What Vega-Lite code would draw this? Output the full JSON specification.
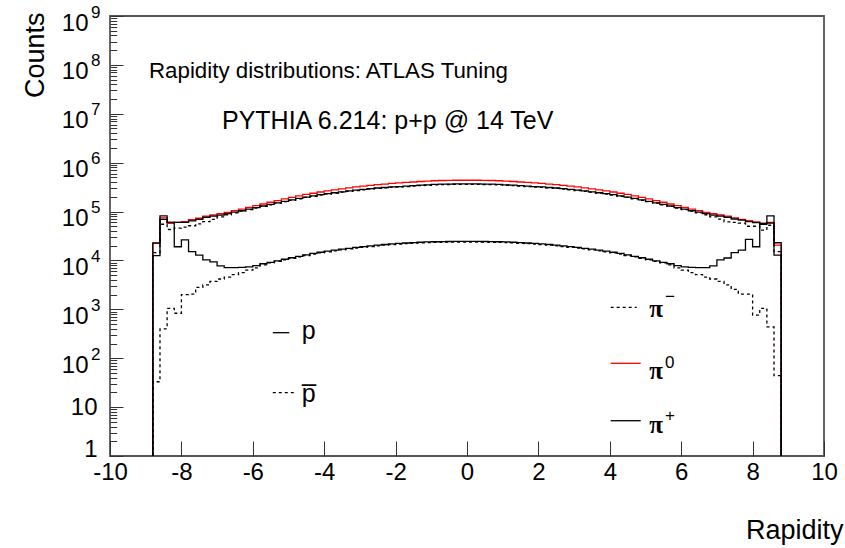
{
  "$schema": "https://vega.github.io/schema/vega-lite/v6.json",
  "width": 714,
  "height": 440,
  "autosize": {"type": "none"},
  "padding": {"left": 110, "top": 16, "right": 21, "bottom": 92},
  "background": "white",
  "config": {
    "font": "Liberation Sans",
    "view": {"stroke": "#555555", "strokeWidth": 1.8},
    "axis": {"grid": false, "domain": false, "labelColor": "black", "titleColor": "black", "titleFontWeight": "normal", "tickColor": "#333333", "tickWidth": 1, "labelFont": "Liberation Sans", "titleFont": "Liberation Sans"},
    "text": {"font": "Liberation Sans", "color": "black"}
  },
  "datasets": {
    "hist": [
      {"k":0,"x":-8.8,"p0":1,"pp":1,"pm":1,"p":1,"pb":1},
      {"k":1,"x":-8.8,"p0":22400,"pp":22900,"pm":14500,"p":12590,"pb":33},
      {"k":2,"x":-8.6,"p0":74000,"pp":69000,"pm":55000,"p":81300,"pb":398},
      {"k":3,"x":-8.4,"p0":57500,"pp":60300,"pm":43000,"p":60300,"pb":1047},
      {"k":4,"x":-8.2,"p0":60000,"pp":60300,"pm":45700,"p":19050,"pb":832},
      {"k":5,"x":-8.0,"p0":62500,"pp":60300,"pm":47900,"p":26300,"pb":1995},
      {"k":6,"x":-7.8,"p0":68000,"pp":64500,"pm":51300,"p":15140,"pb":2040},
      {"k":7,"x":-7.6,"p0":73000,"pp":69500,"pm":56200,"p":12880,"pb":2820},
      {"k":8,"x":-7.4,"p0":80400,"pp":76400,"pm":62000,"p":10230,"pb":3160},
      {"k":9,"x":-7.2,"p0":85100,"pp":80400,"pm":69000,"p":9330,"pb":3720},
      {"k":10,"x":-7.0,"p0":90200,"pp":84800,"pm":78000,"p":7760,"pb":4170},
      {"k":11,"x":-6.8,"p0":96600,"pp":90300,"pm":86000,"p":7160,"pb":4570},
      {"k":12,"x":-6.6,"p0":104200,"pp":96900,"pm":94000,"p":7160,"pb":5130},
      {"k":13,"x":-6.4,"p0":112200,"pp":103800,"pm":101700,"p":7240,"pb":5620},
      {"k":14,"x":-6.2,"p0":121600,"pp":111900,"pm":109700,"p":7410,"pb":6310},
      {"k":15,"x":-6.0,"p0":131800,"pp":120600,"pm":118200,"p":7850,"pb":7080},
      {"k":16,"x":-5.8,"p0":142900,"pp":130000,"pm":127400,"p":8550,"pb":8130},
      {"k":17,"x":-5.6,"p0":154900,"pp":140200,"pm":137400,"p":9160,"pb":8890},
      {"k":18,"x":-5.4,"p0":167900,"pp":151100,"pm":148100,"p":9840,"pb":9540},
      {"k":19,"x":-5.2,"p0":181100,"pp":162100,"pm":158900,"p":10570,"pb":10250},
      {"k":20,"x":-5.0,"p0":195000,"pp":173600,"pm":170100,"p":11350,"pb":11010},
      {"k":21,"x":-4.8,"p0":208900,"pp":185900,"pm":182200,"p":12160,"pb":11800},
      {"k":22,"x":-4.6,"p0":223900,"pp":198200,"pm":194200,"p":13000,"pb":12610},
      {"k":23,"x":-4.4,"p0":237100,"pp":208600,"pm":204400,"p":13900,"pb":13480},
      {"k":24,"x":-4.2,"p0":251200,"pp":221100,"pm":216700,"p":14720,"pb":14280},
      {"k":25,"x":-4.0,"p0":264900,"pp":231800,"pm":227200,"p":15490,"pb":15030},
      {"k":26,"x":-3.8,"p0":278600,"pp":242400,"pm":237600,"p":16220,"pb":15730},
      {"k":27,"x":-3.6,"p0":291700,"pp":253800,"pm":248700,"p":16980,"pb":16470},
      {"k":28,"x":-3.4,"p0":305500,"pp":264300,"pm":259000,"p":17700,"pb":17170},
      {"k":29,"x":-3.2,"p0":318400,"pp":275400,"pm":269900,"p":18450,"pb":17900},
      {"k":30,"x":-3.0,"p0":331100,"pp":284700,"pm":279000,"p":19190,"pb":18610},
      {"k":31,"x":-2.8,"p0":342800,"pp":294800,"pm":288900,"p":19860,"pb":19260},
      {"k":32,"x":-2.6,"p0":354800,"pp":303400,"pm":297300,"p":20560,"pb":19940},
      {"k":33,"x":-2.4,"p0":365600,"pp":310800,"pm":304600,"p":21180,"pb":20540},
      {"k":34,"x":-2.2,"p0":375800,"pp":319400,"pm":313000,"p":21780,"pb":21130},
      {"k":35,"x":-2.0,"p0":384600,"pp":323100,"pm":316600,"p":22280,"pb":21610},
      {"k":36,"x":-1.8,"p0":393600,"pp":330600,"pm":324000,"p":22750,"pb":22070},
      {"k":37,"x":-1.6,"p0":402700,"pp":338300,"pm":331500,"p":23170,"pb":22470},
      {"k":38,"x":-1.4,"p0":412100,"pp":346200,"pm":339300,"p":23550,"pb":22840},
      {"k":39,"x":-1.2,"p0":419800,"pp":352600,"pm":345500,"p":23880,"pb":23160},
      {"k":40,"x":-1.0,"p0":426600,"pp":358300,"pm":351100,"p":24100,"pb":23380},
      {"k":41,"x":-0.8,"p0":431500,"pp":362500,"pm":355300,"p":24270,"pb":23540},
      {"k":42,"x":-0.6,"p0":434500,"pp":365000,"pm":357700,"p":24430,"pb":23700},
      {"k":43,"x":-0.4,"p0":436500,"pp":366700,"pm":359400,"p":24550,"pb":23810},
      {"k":44,"x":-0.2,"p0":436500,"pp":366700,"pm":359400,"p":24550,"pb":23810},
      {"k":45,"x":0.0,"p0":436500,"pp":366700,"pm":359400,"p":24550,"pb":23810},
      {"k":46,"x":0.2,"p0":436500,"pp":366700,"pm":359400,"p":24550,"pb":23810},
      {"k":47,"x":0.4,"p0":434500,"pp":365000,"pm":357700,"p":24430,"pb":23700},
      {"k":48,"x":0.6,"p0":431500,"pp":362500,"pm":355300,"p":24270,"pb":23540},
      {"k":49,"x":0.8,"p0":426600,"pp":358300,"pm":351100,"p":24100,"pb":23380},
      {"k":50,"x":1.0,"p0":419800,"pp":352600,"pm":345500,"p":23880,"pb":23160},
      {"k":51,"x":1.2,"p0":412100,"pp":346200,"pm":339300,"p":23550,"pb":22840},
      {"k":52,"x":1.4,"p0":402700,"pp":338300,"pm":331500,"p":23170,"pb":22470},
      {"k":53,"x":1.6,"p0":393600,"pp":330600,"pm":324000,"p":22750,"pb":22070},
      {"k":54,"x":1.8,"p0":384600,"pp":323100,"pm":316600,"p":22280,"pb":21610},
      {"k":55,"x":2.0,"p0":375800,"pp":319400,"pm":313000,"p":21780,"pb":21130},
      {"k":56,"x":2.2,"p0":365600,"pp":310800,"pm":304600,"p":21180,"pb":20540},
      {"k":57,"x":2.4,"p0":354800,"pp":303400,"pm":297300,"p":20560,"pb":19940},
      {"k":58,"x":2.6,"p0":342800,"pp":294800,"pm":288900,"p":19860,"pb":19260},
      {"k":59,"x":2.8,"p0":331100,"pp":284700,"pm":279000,"p":19190,"pb":18610},
      {"k":60,"x":3.0,"p0":318400,"pp":275400,"pm":269900,"p":18450,"pb":17900},
      {"k":61,"x":3.2,"p0":305500,"pp":264300,"pm":259000,"p":17700,"pb":17170},
      {"k":62,"x":3.4,"p0":291700,"pp":253800,"pm":248700,"p":16980,"pb":16470},
      {"k":63,"x":3.6,"p0":278600,"pp":242400,"pm":237600,"p":16220,"pb":15730},
      {"k":64,"x":3.8,"p0":264900,"pp":231800,"pm":227200,"p":15490,"pb":15030},
      {"k":65,"x":4.0,"p0":251200,"pp":221100,"pm":216700,"p":14720,"pb":14280},
      {"k":66,"x":4.2,"p0":237100,"pp":208600,"pm":204400,"p":13900,"pb":13480},
      {"k":67,"x":4.4,"p0":223900,"pp":198200,"pm":194200,"p":13000,"pb":12610},
      {"k":68,"x":4.6,"p0":208900,"pp":185900,"pm":182200,"p":12160,"pb":11800},
      {"k":69,"x":4.8,"p0":195000,"pp":173600,"pm":170100,"p":11350,"pb":11010},
      {"k":70,"x":5.0,"p0":181100,"pp":162100,"pm":158900,"p":10570,"pb":10250},
      {"k":71,"x":5.2,"p0":167900,"pp":151100,"pm":148100,"p":9840,"pb":9540},
      {"k":72,"x":5.4,"p0":154900,"pp":140200,"pm":137400,"p":9160,"pb":8890},
      {"k":73,"x":5.6,"p0":142900,"pp":130000,"pm":127400,"p":8550,"pb":8130},
      {"k":74,"x":5.8,"p0":131800,"pp":120600,"pm":118200,"p":7850,"pb":7080},
      {"k":75,"x":6.0,"p0":121600,"pp":111900,"pm":109700,"p":7410,"pb":6310},
      {"k":76,"x":6.2,"p0":112200,"pp":103800,"pm":101700,"p":7240,"pb":5620},
      {"k":77,"x":6.4,"p0":104200,"pp":96900,"pm":94000,"p":7160,"pb":5130},
      {"k":78,"x":6.6,"p0":96600,"pp":90300,"pm":86000,"p":7160,"pb":4570},
      {"k":79,"x":6.8,"p0":90200,"pp":84800,"pm":78000,"p":7760,"pb":4170},
      {"k":80,"x":7.0,"p0":85100,"pp":80400,"pm":70000,"p":10230,"pb":3720},
      {"k":81,"x":7.2,"p0":80400,"pp":76400,"pm":61700,"p":11220,"pb":3160},
      {"k":82,"x":7.4,"p0":74000,"pp":70500,"pm":60000,"p":14450,"pb":2570},
      {"k":83,"x":7.6,"p0":69500,"pp":66500,"pm":58000,"p":16220,"pb":2040},
      {"k":84,"x":7.8,"p0":65000,"pp":62500,"pm":50100,"p":26920,"pb":2040},
      {"k":85,"x":8.0,"p0":61700,"pp":59500,"pm":50100,"p":19050,"pb":759},
      {"k":86,"x":8.2,"p0":57500,"pp":55000,"pm":41700,"p":57540,"pb":1047},
      {"k":87,"x":8.4,"p0":60000,"pp":58000,"pm":52500,"p":81300,"pb":437},
      {"k":88,"x":8.6,"p0":20600,"pp":23000,"pm":15100,"p":12880,"pb":44},
      {"k":89,"x":8.8,"p0":1,"pp":1,"pm":1,"p":1,"pb":1}
    ]
  },
  "layer": [
    {
      "layer": [
        {
          "data": {"name": "hist"},
          "transform": [{"fold": ["p0", "pb", "p", "pm", "pp"], "as": ["series", "count"]}],
          "mark": {"type": "line", "interpolate": "step-after", "strokeWidth": 1.3},
          "encoding": {
            "x": {
              "field": "x", "type": "quantitative",
              "scale": {"domain": [-10, 10], "nice": false, "zero": false},
              "axis": {
                "values": [-10,-9.5,-9,-8.5,-8,-7.5,-7,-6.5,-6,-5.5,-5,-4.5,-4,-3.5,-3,-2.5,-2,-1.5,-1,-0.5,0,0.5,1,1.5,2,2.5,3,3.5,4,4.5,5,5.5,6,6.5,7,7.5,8,8.5,9,9.5,10],
                "labelExpr": "datum.value % 2 == 0 ? (datum.value < 0 ? '-' : '') + abs(datum.value) : ''",
                "tickSize": {"condition": {"test": "datum.value % 2 == 0", "value": -15}, "value": -7.7},
                "labelPadding": {"condition": {"test": "datum.value % 2 == 0", "value": 19}, "value": 12},
                "labelFontSize": 24, "labelBaseline": "top", "labelFlush": false, "labelOverlap": false, "labelBound": false,
                "title": "Rapidity", "titleFontSize": 27, "titleAnchor": "end", "titleAlign": "right", "titleBaseline": "alphabetic", "titleX": 733, "titleY": 82
              }
            },
            "y": {
              "field": "count", "type": "quantitative",
              "scale": {"type": "log", "domain": [1, 1000000000], "nice": false},
              "axis": {
                "orient": "left",
                "values": [1,2,3,4,5,6,7,8,9,10,20,30,40,50,60,70,80,90,100,200,300,400,500,600,700,800,900,1000,2000,3000,4000,5000,6000,7000,8000,9000,10000,20000,30000,40000,50000,60000,70000,80000,90000,100000,200000,300000,400000,500000,600000,700000,800000,900000,1000000,2000000,3000000,4000000,5000000,6000000,7000000,8000000,9000000,10000000,20000000,30000000,40000000,50000000,60000000,70000000,80000000,90000000,100000000,200000000,300000000,400000000,500000000,600000000,700000000,800000000,900000000,1000000000],
                "labelExpr": "datum.value == 1 ? '1' : datum.value == 10 ? '10' : ''",
                "tickSize": {"condition": {"test": "indexof([1,10,100,1000,10000,100000,1000000,10000000,100000000,1000000000], datum.value) >= 0", "value": -13}, "value": -6.7},
                "labelPadding": {"condition": {"test": "indexof([1,10,100,1000,10000,100000,1000000,10000000,100000000,1000000000], datum.value) >= 0", "value": 26}, "value": 20},
                "labelOffset": {"condition": {"test": "datum.value == 1", "value": -7}, "value": 0},
                "labelFontSize": 24, "labelOverlap": false, "labelFlush": false, "labelBound": false,
                "title": "Counts", "titleFontSize": 27, "titleAngle": -90, "titleAlign": "right", "titleBaseline": "alphabetic", "titleX": -67, "titleY": -4
              }
            },
            "color": {"field": "series", "type": "nominal", "scale": {"domain": ["p0", "pb", "p", "pm", "pp"], "range": ["#ff0000", "#000000", "#000000", "#000000", "#000000"]}, "legend": null},
            "strokeDash": {"field": "series", "type": "nominal", "scale": {"domain": ["p0", "pb", "p", "pm", "pp"], "range": [[1, 0], [3, 3], [1, 0], [3, 3], [1, 0]]}, "legend": null},
            "order": {"field": "k", "type": "quantitative"}
          }
        },
        {
          "data": {"values": [{}]},
          "mark": {"type": "text", "align": "left", "baseline": "alphabetic", "fontSize": 22.3},
          "encoding": {"x": {"datum": -8.908}, "y": {"datum": 55200000}, "text": {"value": "Rapidity distributions: ATLAS Tuning"}}
        },
        {
          "data": {"values": [{}]},
          "mark": {"type": "text", "align": "left", "baseline": "alphabetic", "fontSize": 25},
          "encoding": {"x": {"datum": -6.863}, "y": {"datum": 4900000}, "text": {"value": "PYTHIA 6.214: p+p @ 14 TeV"}}
        },
        {
          "data": {"values": [{}]},
          "mark": {"type": "rule", "color": "black", "strokeWidth": 1.3},
          "encoding": {"x": {"datum": -5.44}, "x2": {"datum": -4.98}, "y": {"datum": 333}}
        },
        {
          "data": {"values": [{}]},
          "mark": {"type": "text", "align": "left", "baseline": "alphabetic", "fontSize": 25},
          "encoding": {"x": {"datum": -4.63}, "y": {"datum": 244}, "text": {"value": "p"}}
        },
        {
          "data": {"values": [{}]},
          "mark": {"type": "rule", "color": "black", "strokeWidth": 1.3, "strokeDash": [3, 3]},
          "encoding": {"x": {"datum": -5.44}, "x2": {"datum": -4.82}, "y": {"datum": 19.7}}
        },
        {
          "data": {"values": [{}]},
          "mark": {"type": "text", "align": "left", "baseline": "alphabetic", "fontSize": 25},
          "encoding": {"x": {"datum": -4.63}, "y": {"datum": 12.9}, "text": {"value": "p\u0305"}}
        },
        {
          "data": {"values": [{}]},
          "mark": {"type": "rule", "color": "black", "strokeWidth": 1.3, "strokeDash": [3, 3]},
          "encoding": {"x": {"datum": 4.025}, "x2": {"datum": 4.754}, "y": {"datum": 1101}}
        },
        {
          "data": {"values": [{}]},
          "mark": {"type": "text", "align": "left", "baseline": "alphabetic", "fontSize": 25, "font": "Liberation Serif", "fontWeight": "bold"},
          "encoding": {"x": {"datum": 5.106}, "y": {"datum": 707}, "text": {"value": "π"}}
        },
        {
          "data": {"values": [{}]},
          "mark": {"type": "text", "align": "left", "baseline": "alphabetic", "fontSize": 17},
          "encoding": {"x": {"datum": 5.546}, "y": {"datum": 1413}, "text": {"value": "−"}}
        },
        {
          "data": {"values": [{}]},
          "mark": {"type": "rule", "color": "#ff0000", "strokeWidth": 1.3},
          "encoding": {"x": {"datum": 4.025}, "x2": {"datum": 4.866}, "y": {"datum": 78.7}}
        },
        {
          "data": {"values": [{}]},
          "mark": {"type": "text", "align": "left", "baseline": "alphabetic", "fontSize": 25, "font": "Liberation Serif", "fontWeight": "bold"},
          "encoding": {"x": {"datum": 5.106}, "y": {"datum": 37}, "text": {"value": "π"}}
        },
        {
          "data": {"values": [{}]},
          "mark": {"type": "text", "align": "left", "baseline": "alphabetic", "fontSize": 17},
          "encoding": {"x": {"datum": 5.546}, "y": {"datum": 63.1}, "text": {"value": "0"}}
        },
        {
          "data": {"values": [{}]},
          "mark": {"type": "rule", "color": "black", "strokeWidth": 1.3},
          "encoding": {"x": {"datum": 4.025}, "x2": {"datum": 4.866}, "y": {"datum": 5.27}}
        },
        {
          "data": {"values": [{}]},
          "mark": {"type": "text", "align": "left", "baseline": "alphabetic", "fontSize": 25, "font": "Liberation Serif", "fontWeight": "bold"},
          "encoding": {"x": {"datum": 5.106}, "y": {"datum": 3.0}, "text": {"value": "π"}}
        },
        {
          "data": {"values": [{}]},
          "mark": {"type": "text", "align": "left", "baseline": "alphabetic", "fontSize": 17},
          "encoding": {"x": {"datum": 5.546}, "y": {"datum": 5.2}, "text": {"value": "+"}}
        }
      ]
    },
    {
      "data": {"values": [{}]},
      "mark": {"type": "rule", "opacity": 0},
      "encoding": {
        "y": {
          "datum": 1, "type": "quantitative",
          "scale": {"type": "log", "domain": [1, 1000000000], "nice": false},
          "axis": {
            "orient": "left",
            "values": [100,1000,10000,100000,1000000,10000000,100000000,1000000000],
            "labelExpr": "'10'",
            "ticks": false, "tickSize": 0, "domain": false,
            "labelPadding": 22, "labelFontSize": 24, "labelOffset": 7,
            "labelOverlap": false, "labelFlush": false, "labelBound": false,
            "title": null
          }
        }
      }
    },
    {
      "data": {"values": [{}]},
      "mark": {"type": "rule", "opacity": 0},
      "encoding": {
        "y": {
          "datum": 1, "type": "quantitative",
          "scale": {"type": "log", "domain": [1, 1000000000], "nice": false},
          "axis": {
            "orient": "left",
            "values": [100,1000,10000,100000,1000000,10000000,100000000,1000000000],
            "labelExpr": "'' + round(log(datum.value) / LN10)",
            "ticks": false, "tickSize": 0, "domain": false,
            "labelPadding": 10, "labelFontSize": 17, "labelOffset": -4,
            "labelOverlap": false, "labelFlush": false, "labelBound": false,
            "title": null
          }
        }
      }
    }
  ],
  "resolve": {"axis": {"y": "independent"}}
}
